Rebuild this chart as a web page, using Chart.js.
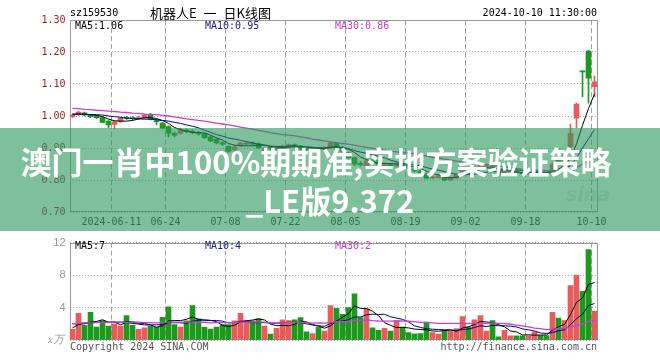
<!DOCTYPE html>
<html>
<head>
<meta charset="utf-8">
<title>sz159530 日K线图</title>
<script src="https://cdn.jsdelivr.net/npm/chart.js@4.4.1/dist/chart.umd.min.js"></script>
<style>
  body { margin:0; width:660px; height:360px; background:#fff; position:relative; overflow:hidden; font-family:'DejaVu Sans Mono', monospace; }
  canvas { position:absolute; left:0; }
  .txt { position:absolute; font-size:10px; line-height:12px; white-space:nowrap; }
  #banner { position:absolute; left:0; top:128px; width:660px; height:103px; background:rgba(40,150,90,0.6); }
  .big { position:absolute; width:660px; text-align:center; color:#fff; font-family:'Noto Sans CJK SC', sans-serif; font-weight:bold; font-size:31px; line-height:40px; white-space:nowrap; }
</style>
</head>
<body>
<canvas id="kline" width="660" height="232" style="top:0"></canvas>
<canvas id="vol" width="660" height="128" style="top:232px"></canvas>

<div class="txt" style="left:70px;top:7px">sz159530</div>
<div class="txt" style="left:150px;top:5px;font-family:'Noto Sans CJK SC',sans-serif;font-size:13px;line-height:16px;word-spacing:4px">机器人E 一 日K线图</div>
<div class="txt" style="right:63px;top:7px">2024-10-10 11:30:00</div>
<div class="txt" style="left:75px;top:20px;color:#000">MA5:1.06</div>
<div class="txt" style="left:205px;top:20px;color:#1a1a7a">MA10:0.95</div>
<div class="txt" style="left:335px;top:20px;color:#c040c0">MA30:0.86</div>

<div class="txt" style="left:75px;top:240px;color:#000">MA5:7</div>
<div class="txt" style="left:205px;top:240px;color:#1a1a7a">MA10:4</div>
<div class="txt" style="left:335px;top:240px;color:#c040c0">MA30:2</div>
<div class="txt" style="left:48px;top:333px;color:#999;font-family:'Liberation Serif',serif;font-style:italic;font-size:11px">x万</div>
<div class="txt" style="left:70px;top:341px;color:#555">Copyright 2024 SINA.COM</div>
<div class="txt" style="right:63px;top:341px;color:#555">http://finance.sina.com.cn</div>

<div class="txt" style="left:566px;top:184px;font-family:'DejaVu Sans',sans-serif;font-size:19px;line-height:20px;font-weight:bold;font-style:italic;color:rgba(150,150,150,0.25)">sina</div>

<div id="banner"></div>
<div class="big" style="left:-14px;top:141px">澳门一肖中100%期期准,实地方案验证策略</div>
<div class="big" style="left:0;top:180px">_LE版9.372</div>

<script>
// 交易日
const dates = ['05-30','05-31','06-03','06-04','06-05','06-06','06-07','06-11','06-12','06-13',
  '06-14','06-17','06-18','06-19','06-20','06-21','06-24','06-25','06-26','06-27',
  '06-28','07-01','07-02','07-03','07-04','07-05','07-08','07-09','07-10','07-11',
  '07-12','07-15','07-16','07-17','07-18','07-19','07-22','07-23','07-24','07-25',
  '07-26','07-29','07-30','07-31','08-01','08-02','08-05','08-06','08-07','08-08',
  '08-09','08-12','08-13','08-14','08-15','08-16','08-19','08-20','08-21','08-22',
  '08-23','08-26','08-27','08-28','08-29','08-30','09-02','09-03','09-04','09-05',
  '09-06','09-09','09-10','09-11','09-12','09-13','09-18','09-19','09-20','09-23',
  '09-24','09-25','09-26','09-27','09-30','10-08','10-09','10-10'];

// 横轴刻度
const tickAt = ['06-11','06-24','07-08','07-22','08-05','08-19','09-02','09-18','10-10'];
const tickText = ['2024-06-11','06-24','07-08','07-22','08-05','08-19','09-02','09-18','10-10'];

// K线 开 收 高 低
const openP = [0.998,1.004,1.010,1.003,1.000,0.995,0.984,0.974,0.982,0.996,
  0.995,0.992,0.994,1.005,0.986,0.978,0.967,0.946,0.946,0.956,
  0.953,0.948,0.944,0.935,0.928,0.916,0.905,0.894,0.908,0.912,
  0.916,0.914,0.890,0.902,0.897,0.900,0.903,0.910,0.906,0.898,
  0.894,0.900,0.895,0.900,0.915,0.902,0.885,0.870,0.852,0.845,
  0.860,0.860,0.845,0.850,0.843,0.850,0.842,0.835,0.828,0.819,
  0.806,0.808,0.810,0.800,0.806,0.826,0.836,0.828,0.835,0.840,
  0.842,0.825,0.820,0.825,0.828,0.823,0.819,0.820,0.826,0.822,
  0.820,0.862,0.855,0.904,0.993,1.140,1.203,1.092];
const closeP = [1.003,1.012,1.003,0.998,0.995,0.980,0.972,0.982,0.993,0.993,
  0.992,0.995,1.003,0.990,0.982,0.962,0.946,0.940,0.958,0.952,
  0.948,0.944,0.932,0.922,0.916,0.912,0.890,0.904,0.915,0.916,
  0.912,0.900,0.900,0.899,0.902,0.906,0.910,0.905,0.898,0.895,
  0.900,0.895,0.900,0.915,0.903,0.890,0.870,0.850,0.848,0.860,
  0.855,0.847,0.850,0.845,0.852,0.842,0.836,0.828,0.822,0.806,
  0.810,0.812,0.800,0.806,0.818,0.836,0.830,0.838,0.845,0.843,
  0.830,0.818,0.828,0.828,0.823,0.819,0.823,0.826,0.822,0.818,
  0.850,0.855,0.878,0.946,1.037,1.138,1.118,1.107];
const highP = [1.006,1.015,1.012,1.005,1.002,0.997,0.986,0.985,0.996,0.999,
  0.998,0.999,1.006,1.008,0.990,0.980,0.969,0.950,0.962,0.960,
  0.957,0.952,0.946,0.937,0.930,0.920,0.907,0.907,0.918,0.920,
  0.919,0.916,0.903,0.905,0.905,0.909,0.913,0.913,0.908,0.901,
  0.903,0.902,0.903,0.920,0.918,0.905,0.888,0.872,0.858,0.863,
  0.864,0.862,0.853,0.852,0.855,0.852,0.844,0.837,0.830,0.821,
  0.813,0.815,0.812,0.809,0.821,0.840,0.839,0.841,0.849,0.847,
  0.844,0.827,0.831,0.831,0.830,0.825,0.826,0.829,0.828,0.824,
  0.853,0.868,0.882,0.975,1.040,1.140,1.205,1.125];
const lowP = [0.995,1.002,1.000,0.995,0.992,0.978,0.963,0.960,0.980,0.989,
  0.988,0.989,0.992,0.988,0.972,0.960,0.935,0.935,0.943,0.948,
  0.944,0.940,0.930,0.920,0.913,0.908,0.886,0.890,0.905,0.909,
  0.909,0.898,0.887,0.895,0.894,0.898,0.901,0.902,0.895,0.892,
  0.891,0.892,0.892,0.898,0.900,0.887,0.865,0.845,0.843,0.842,
  0.852,0.845,0.842,0.842,0.841,0.840,0.834,0.826,0.820,0.803,
  0.803,0.806,0.798,0.798,0.804,0.823,0.828,0.826,0.833,0.838,
  0.828,0.815,0.818,0.823,0.821,0.817,0.817,0.818,0.820,0.816,
  0.818,0.850,0.852,0.900,0.9625,1.060,1.040,1.060];

// 均线
const ma5 = [1.005,1.006,1.005,1.004,1.002,0.998,0.990,0.985,0.984,0.984,
  0.986,0.991,0.995,0.995,0.992,0.986,0.977,0.964,0.958,0.952,
  0.949,0.948,0.947,0.940,0.932,0.925,0.914,0.909,0.907,0.907,
  0.907,0.909,0.909,0.905,0.903,0.901,0.903,0.904,0.904,0.903,
  0.902,0.899,0.898,0.901,0.903,0.901,0.896,0.886,0.872,0.864,
  0.857,0.852,0.852,0.851,0.850,0.847,0.845,0.841,0.836,0.827,
  0.820,0.816,0.810,0.807,0.809,0.814,0.818,0.826,0.833,0.838,
  0.837,0.835,0.833,0.829,0.825,0.823,0.824,0.824,0.823,0.822,
  0.828,0.834,0.845,0.869,0.913,0.971,1.023,1.069];
const ma10 = [1.006,1.006,1.005,1.005,1.004,1.003,1.000,0.998,0.996,0.993,
  0.992,0.991,0.990,0.990,0.988,0.986,0.984,0.980,0.977,0.972,
  0.968,0.963,0.956,0.949,0.942,0.937,0.931,0.928,0.924,0.920,
  0.916,0.912,0.909,0.906,0.905,0.904,0.906,0.907,0.905,0.903,
  0.902,0.901,0.901,0.903,0.903,0.902,0.898,0.892,0.887,0.884,
  0.879,0.874,0.869,0.862,0.857,0.852,0.849,0.847,0.844,0.839,
  0.834,0.831,0.826,0.822,0.818,0.817,0.817,0.818,0.820,0.824,
  0.826,0.827,0.830,0.831,0.832,0.830,0.830,0.829,0.826,0.824,
  0.826,0.829,0.835,0.846,0.868,0.900,0.929,0.957];
const ma30 = [1.024,1.023,1.021,1.020,1.018,1.017,1.015,1.014,1.012,1.011,
  1.009,1.008,1.006,1.005,1.004,1.002,1.000,0.997,0.994,0.991,
  0.989,0.986,0.984,0.981,0.978,0.975,0.972,0.969,0.965,0.962,
  0.959,0.955,0.952,0.948,0.945,0.942,0.940,0.938,0.935,0.932,
  0.928,0.925,0.922,0.919,0.917,0.914,0.912,0.909,0.905,0.902,
  0.899,0.896,0.893,0.890,0.888,0.886,0.884,0.882,0.878,0.875,
  0.871,0.869,0.865,0.862,0.859,0.857,0.854,0.852,0.850,0.849,
  0.846,0.844,0.841,0.838,0.836,0.833,0.832,0.831,0.830,0.829,
  0.828,0.829,0.830,0.833,0.839,0.849,0.858,0.868];

// 成交量 (万)
const vol = [1.3,3.3,1.8,3.4,1.6,2.4,1.7,2.0,1.7,3.0,
  1.8,1.3,1.5,1.7,1.55,2.8,4.1,1.9,1.6,2.35,
  4.25,2.6,1.55,1.35,1.6,1.9,1.9,2.35,3.3,2.4,
  2.35,2.6,1.7,0.73,1.45,2.5,2.4,2.5,2.75,1.0,
  0.8,1.6,1.1,4.25,3.9,3.15,4.0,5.7,2.75,3.8,
  1.5,1.2,1.45,1.1,2.4,1.6,0.9,0.77,0.8,2.2,
  0.9,0.73,1.2,1.1,1.4,2.9,1.6,2.5,3.0,1.1,
  2.4,0.4,1.2,0.5,0.5,0.5,0.5,1.0,0.55,0.55,
  3.4,2.7,2.4,6.7,8.0,6.0,11.15,3.55];
const volMa5 = [1.5,1.9,2.0,2.2,2.28,2.5,2.18,2.22,1.88,2.16,
  2.04,1.96,1.86,1.86,1.57,1.77,2.33,2.41,2.39,2.55,
  2.84,2.54,2.47,2.42,2.27,1.8,1.66,1.82,2.21,2.37,
  2.46,2.6,2.47,1.96,1.77,1.8,1.76,1.92,2.32,2.23,
  1.89,1.73,1.45,1.75,2.33,2.8,3.28,4.2,3.9,3.88,
  3.55,2.99,2.14,1.81,1.53,1.55,1.49,1.35,1.29,1.25,
  1.11,1.08,1.17,1.23,1.07,1.47,1.64,1.9,2.28,2.22,
  2.12,1.88,1.62,1.12,1.0,0.62,0.64,0.6,0.61,0.62,
  1.2,1.64,1.92,3.15,4.64,5.16,6.85,7.08];
const volMa10 = [2.0,2.0,2.1,2.1,2.2,2.2,2.2,2.2,2.2,2.22,
  2.27,2.07,2.04,1.87,1.87,1.9,2.15,2.13,2.12,2.06,
  2.3,2.44,2.44,2.4,2.41,2.32,2.1,2.14,2.31,2.32,
  2.13,2.13,2.14,2.08,2.07,2.13,2.18,2.2,2.14,2.0,
  1.85,1.75,1.69,2.04,2.28,2.35,2.5,2.83,2.83,3.1,
  3.18,3.14,3.17,2.86,2.7,2.55,2.24,1.75,1.55,1.39,
  1.33,1.29,1.26,1.26,1.16,1.29,1.36,1.54,1.76,1.65,
  1.8,1.76,1.76,1.7,1.61,1.37,1.26,1.11,0.87,0.81,
  0.91,1.14,1.26,1.88,2.63,3.18,4.25,4.5];
const volMa30 = [2.0,2.05,2.1,2.1,2.15,2.2,2.15,2.2,2.2,2.15,
  2.2,2.2,2.15,2.15,2.1,2.15,2.2,2.2,2.2,2.2,
  2.19,2.17,2.19,2.12,2.16,2.14,2.15,2.16,2.21,2.2,
  2.23,2.21,2.21,2.12,2.12,2.12,2.14,2.16,2.19,2.13,
  2.09,2.11,2.09,2.17,2.25,2.27,2.26,2.39,2.43,2.47,
  2.39,2.34,2.33,2.33,2.35,2.34,2.31,2.26,2.17,2.16,
  2.12,2.06,2.04,2.05,2.05,2.06,2.03,2.04,2.05,2.05,
  2.1,2.06,2.06,1.94,1.82,1.74,1.62,1.47,1.39,1.28,
  1.35,1.4,1.43,1.61,1.8,1.95,2.29,2.38];

const RED = '#e85c5c', GREEN = '#1c9a1c';
const colors = closeP.map((c, i) => c >= openP[i] ? RED : GREEN);

Chart.defaults.font.family = "'DejaVu Sans Mono', monospace";

// 外框
const frame = {
  id: 'frame',
  beforeDatasetsDraw(chart) {
    const { ctx, chartArea: a } = chart;
    const l = Math.round(a.left) + 0.5, t = Math.round(a.top) + 0.5;
    const r = Math.round(a.right) - 0.5, b = Math.round(a.bottom) - 0.5;
    ctx.save();
    ctx.strokeStyle = '#999';
    ctx.lineWidth = 1;
    ctx.strokeRect(l, t, r - l, b - t);
    ctx.restore();
  }
};

function xAxis(showLabels) {
  return {
    offset: true,
    grid: {
      offset: true, drawTicks: false, lineWidth: 1, borderDash: [5, 3],
      color: c => tickAt.includes(dates[c.index]) ? '#a0a0a0' : 'rgba(0,0,0,0)'
    },
    border: { display: false, dash: [5, 3] },
    ticks: {
      display: showLabels, autoSkip: false, maxRotation: 0, minRotation: 0,
      labelOffset: -3, padding: 4, color: '#333', font: { size: 10 },
      callback: (v, i) => { const k = tickAt.indexOf(dates[i]); return k < 0 ? '' : tickText[k]; }
    },
    afterFit: s => { s.height = 20; }
  };
}

function maLine(data, color, width) {
  return { type: 'line', data, borderColor: color, borderWidth: width, pointRadius: 0, tension: 0, fill: false, order: 1 };
}

new Chart(document.getElementById('kline'), {
  type: 'bar',
  data: {
    labels: dates,
    datasets: [
      maLine(ma30, '#c840c8', 1.3),
      maLine(ma10, '#000080', 1),
      maLine(ma5, '#000000', 1),
      { data: openP.map((o, i) => [o, closeP[i]]), backgroundColor: colors, barThickness: 5, grouped: false, minBarLength: 1, order: 2 },
      { data: lowP.map((l, i) => [l, highP[i]]), backgroundColor: colors, barThickness: 1, grouped: false, order: 3 }
    ]
  },
  options: {
    responsive: false, animation: false,
    layout: { padding: { left: 0, right: 62.5, top: 20, bottom: 0 } },
    plugins: { legend: { display: false }, tooltip: { enabled: false } },
    scales: {
      x: xAxis(true),
      y: {
        min: 0.7, max: 1.3,
        ticks: { stepSize: 0.1, padding: 4, color: '#992222', font: { size: 10 }, callback: v => v.toFixed(2) },
        grid: { color: '#aaa', drawTicks: false, borderDash: [1, 2] },
        border: { display: false, dash: [1, 2] },
        afterFit: s => { s.width = 69.5; }
      }
    }
  },
  plugins: [frame]
});

new Chart(document.getElementById('vol'), {
  type: 'bar',
  data: {
    labels: dates,
    datasets: [
      maLine(volMa30, '#c840c8', 1.3),
      maLine(volMa10, '#000080', 1),
      maLine(volMa5, '#000000', 1),
      { data: vol, backgroundColor: colors, barThickness: 5, grouped: false, order: 2 }
    ]
  },
  options: {
    responsive: false, animation: false,
    layout: { padding: { left: 0, right: 62.5, top: 8, bottom: 0 } },
    plugins: { legend: { display: false }, tooltip: { enabled: false } },
    scales: {
      x: xAxis(false),
      y: {
        min: 0, max: 12,
        ticks: { stepSize: 4, padding: 4, color: '#999', font: { family: "'Liberation Sans', sans-serif", size: 11 }, callback: v => v === 0 ? '' : v },
        grid: { color: '#aaa', drawTicks: false, borderDash: [1, 2] },
        border: { display: false, dash: [1, 2] },
        afterFit: s => { s.width = 69.5; }
      }
    }
  },
  plugins: [frame]
});
</script>
</body>
</html>
